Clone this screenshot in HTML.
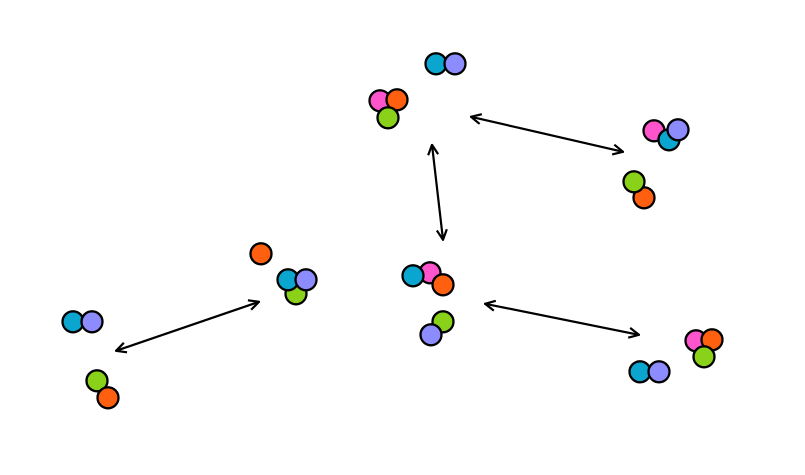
<!DOCTYPE html>
<html><head><style>html,body{margin:0;padding:0;background:#fff;}svg{display:block}</style></head>
<body>
<svg width="805" height="475" viewBox="0 0 805 475" xmlns="http://www.w3.org/2000/svg">
<defs>
<marker id="a" viewBox="0 0 12 12" refX="11" refY="6" markerWidth="12" markerHeight="12" markerUnits="userSpaceOnUse" orient="auto-start-reverse">
<path d="M1,1 L11,6 L1,11" fill="none" stroke="#000" stroke-width="2.2"/>
</marker>
</defs>
<g transform="translate(0,0.8)">
<g stroke="#000" stroke-width="2.2" fill="none" marker-start="url(#a)" marker-end="url(#a)">
<line x1="471" y1="116" x2="623" y2="151"/>
<line x1="432" y1="144" x2="443" y2="239"/>
<line x1="485" y1="303" x2="639" y2="334"/>
<line x1="116" y1="350" x2="259" y2="301"/>
</g>
<g stroke="#000" stroke-width="2.3">
<circle cx="436" cy="63" r="10.5" fill="#0aa6d0"/>
<circle cx="455" cy="63" r="10.5" fill="#8c8cff"/>
<circle cx="380" cy="100" r="10.5" fill="#ff55cc"/>
<circle cx="397" cy="99" r="10.5" fill="#ff6010"/>
<circle cx="388" cy="117" r="10.5" fill="#8ad21a"/>

<circle cx="654" cy="130" r="10.5" fill="#ff55cc"/>
<circle cx="669" cy="139" r="10.5" fill="#0aa6d0"/>
<circle cx="678" cy="129" r="10.5" fill="#8c8cff"/>
<circle cx="644" cy="197" r="10.5" fill="#ff6010"/>
<circle cx="634" cy="181" r="10.5" fill="#8ad21a"/>

<circle cx="430" cy="272" r="10.5" fill="#ff55cc"/>
<circle cx="413" cy="275" r="10.5" fill="#0aa6d0"/>
<circle cx="443" cy="284" r="10.5" fill="#ff6010"/>
<circle cx="443" cy="321" r="10.5" fill="#8ad21a"/>
<circle cx="431" cy="334" r="10.5" fill="#8c8cff"/>

<circle cx="261" cy="253" r="10.5" fill="#ff6010"/>
<circle cx="296" cy="293" r="10.5" fill="#8ad21a"/>
<circle cx="288" cy="279" r="10.5" fill="#0aa6d0"/>
<circle cx="306" cy="279" r="10.5" fill="#8c8cff"/>

<circle cx="73" cy="321" r="10.5" fill="#0aa6d0"/>
<circle cx="92" cy="321" r="10.5" fill="#8c8cff"/>
<circle cx="97" cy="380" r="10.5" fill="#8ad21a"/>
<circle cx="108" cy="397" r="10.5" fill="#ff6010"/>

<circle cx="696" cy="340" r="10.5" fill="#ff55cc"/>
<circle cx="712" cy="339" r="10.5" fill="#ff6010"/>
<circle cx="704" cy="356" r="10.5" fill="#8ad21a"/>
<circle cx="640" cy="371" r="10.5" fill="#0aa6d0"/>
<circle cx="659" cy="371" r="10.5" fill="#8c8cff"/>
</g>
</g>
</svg>
</body></html>
